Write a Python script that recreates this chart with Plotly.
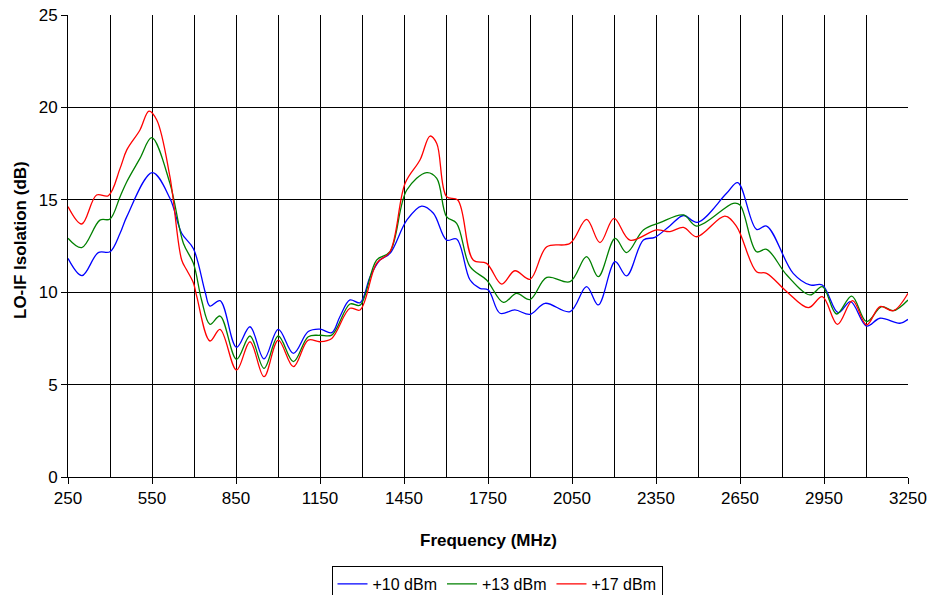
import plotly.graph_objects as go

# +10 dBm series
freq_10 = [250, 300, 358, 400, 436, 460, 551, 614, 656, 698, 740, 757, 793, 852, 900, 950, 1001, 1055, 1108, 1150, 1192, 1221, 1257, 1293, 1329, 1364, 1400, 1460, 1513, 1555, 1602, 1638, 1686, 1721, 1751, 1793, 1846, 1900, 1954, 2043, 2102, 2144, 2204, 2245, 2305, 2346, 2400, 2448, 2498, 2602, 2642, 2709, 2745, 2840, 2900, 2944, 3001, 3045, 3102, 3150, 3221, 3250]
iso_10 = [11.83, 10.9, 12.14, 12.19, 13.19, 14.09, 16.47, 15.08, 13.19, 12.35, 10.0, 9.25, 9.54, 7.02, 8.13, 6.39, 7.99, 6.69, 7.87, 8.0, 7.81, 8.67, 9.58, 9.43, 10.84, 11.74, 12.1, 13.9, 14.66, 14.27, 12.82, 12.88, 10.66, 10.21, 10.12, 8.86, 9.04, 8.8, 9.4, 8.95, 10.3, 9.31, 11.65, 10.88, 12.82, 12.97, 13.6, 14.15, 13.78, 15.35, 15.93, 13.4, 13.58, 11.02, 10.39, 10.39, 8.89, 9.49, 8.17, 8.59, 8.32, 8.53]

# +13 dBm series
freq_13 = [250, 299, 364, 400, 436, 460, 507, 549, 614, 662, 698, 727, 757, 793, 852, 900, 950, 1001, 1055, 1108, 1150, 1192, 1257, 1293, 1352, 1400, 1460, 1531, 1567, 1602, 1638, 1686, 1745, 1805, 1852, 1900, 1960, 2043, 2102, 2144, 2204, 2245, 2305, 2364, 2448, 2495, 2626, 2650, 2709, 2745, 2817, 2900, 2944, 2995, 3049, 3102, 3156, 3198, 3250]
iso_13 = [12.92, 12.41, 13.9, 13.96, 15.17, 15.98, 17.24, 18.36, 15.89, 12.65, 11.56, 9.58, 8.26, 8.71, 6.37, 7.63, 5.88, 7.63, 6.24, 7.59, 7.67, 7.68, 9.36, 9.3, 11.74, 12.19, 15.53, 16.47, 16.16, 14.09, 13.73, 11.38, 10.66, 9.45, 9.94, 9.6, 10.8, 10.57, 11.92, 10.84, 12.91, 12.14, 13.37, 13.76, 14.18, 13.58, 14.81, 14.72, 12.19, 12.32, 10.93, 9.85, 10.3, 8.82, 9.79, 8.41, 9.22, 9.0, 9.58]

# +17 dBm series
freq_17 = [250, 299, 352, 394, 436, 460, 507, 539, 567, 614, 656, 674, 698, 710, 757, 793, 852, 900, 950, 1001, 1055, 1108, 1150, 1192, 1257, 1293, 1352, 1400, 1454, 1507, 1543, 1567, 1602, 1642, 1697, 1745, 1799, 1846, 1900, 1960, 2043, 2102, 2150, 2200, 2257, 2352, 2400, 2448, 2495, 2596, 2638, 2709, 2745, 2817, 2894, 2944, 2998, 3052, 3102, 3150, 3198, 3250]
iso_17 = [14.63, 13.69, 15.26, 15.22, 16.7, 17.7, 18.78, 19.8, 19.32, 16.25, 11.74, 11.2, 10.5, 9.76, 7.36, 7.99, 5.79, 7.32, 5.43, 7.41, 5.97, 7.41, 7.32, 7.5, 9.13, 9.04, 11.56, 12.19, 15.89, 17.15, 18.45, 18.05, 15.17, 14.99, 11.74, 11.56, 10.44, 11.16, 10.7, 12.46, 12.64, 13.94, 12.68, 14.0, 12.82, 13.37, 13.28, 13.51, 13.0, 14.12, 13.55, 11.11, 11.02, 10.03, 9.16, 9.76, 8.26, 9.54, 8.23, 9.22, 9.0, 9.94]

series_names = ["+10 dBm", "+13 dBm", "+17 dBm"]
series_colors = ["#0000FF", "#008000", "#FF0000"]
x_tick_vals = [250, 550, 850, 1150, 1450, 1750, 2050, 2350, 2650, 2950, 3250]
y_tick_vals = [0, 5, 10, 15, 20, 25]

FONT = "Liberation Sans, Arial, sans-serif"

# figure fills the page (body margin removed via post_script)
W, H = 930, 595
L, R, T, B = 68, 908, 15, 477
PW, PH = R - L, B - T

def px_x(sx):
    return (sx - L) / PW

def px_y(sy):
    return (B - sy) / PH

fig = go.Figure()
for fx, fy, name, col in zip([freq_10, freq_13, freq_17], [iso_10, iso_13, iso_17], series_names, series_colors):
    fig.add_trace(go.Scatter(x=fx, y=fy, name=name, mode="lines",
                             line=dict(color=col, width=1.3, shape="spline", smoothing=1.0)))

fig.update_layout(
    width=W, height=H,
    margin=dict(l=L, r=W - R, t=T, b=H - B, autoexpand=False),
    paper_bgcolor="white", plot_bgcolor="white",
    font=dict(family=FONT, size=17, color="black"),
    showlegend=True,
    legend=dict(orientation="h", x=px_x(497), xanchor="center", y=px_y(566), yanchor="top",
                bordercolor="black", borderwidth=1, font=dict(size=16),
                itemwidth=30, tracegroupgap=0),
    xaxis=dict(range=[250, 3250], tickvals=x_tick_vals, showgrid=True, gridcolor="black",
               gridwidth=1, ticks="outside", ticklen=6, tickcolor="black",
               showline=True, linecolor="black", linewidth=1, zeroline=False, automargin=False,
               ticklabeloverflow="allow",
               minor=dict(tick0=250, dtick=150, showgrid=True, gridcolor="black", gridwidth=1),
               tickfont=dict(size=17)),
    yaxis=dict(range=[0, 25], tickvals=y_tick_vals, showgrid=True, gridcolor="black",
               gridwidth=1, ticks="outside", ticklen=6, tickcolor="black",
               showline=True, linecolor="black", linewidth=1, zeroline=False, automargin=False,
               ticklabeloverflow="allow",
               tickfont=dict(size=17)),
    annotations=[
        dict(text="<b>Frequency (MHz)</b>", xref="paper", yref="paper",
             x=px_x(488), xanchor="center", y=px_y(540), yanchor="middle",
             showarrow=False, font=dict(size=17)),
        dict(text="<b>LO-IF Isolation (dB)</b>", xref="paper", yref="paper",
             x=px_x(20), xanchor="center", y=px_y(240), yanchor="middle",
             showarrow=False, textangle=-90, font=dict(size=17)),
    ],
)

fig.write_html("out.html", config={"displayModeBar": False},
               post_script="document.body.style.margin='0px';document.body.style.overflow='hidden';")
